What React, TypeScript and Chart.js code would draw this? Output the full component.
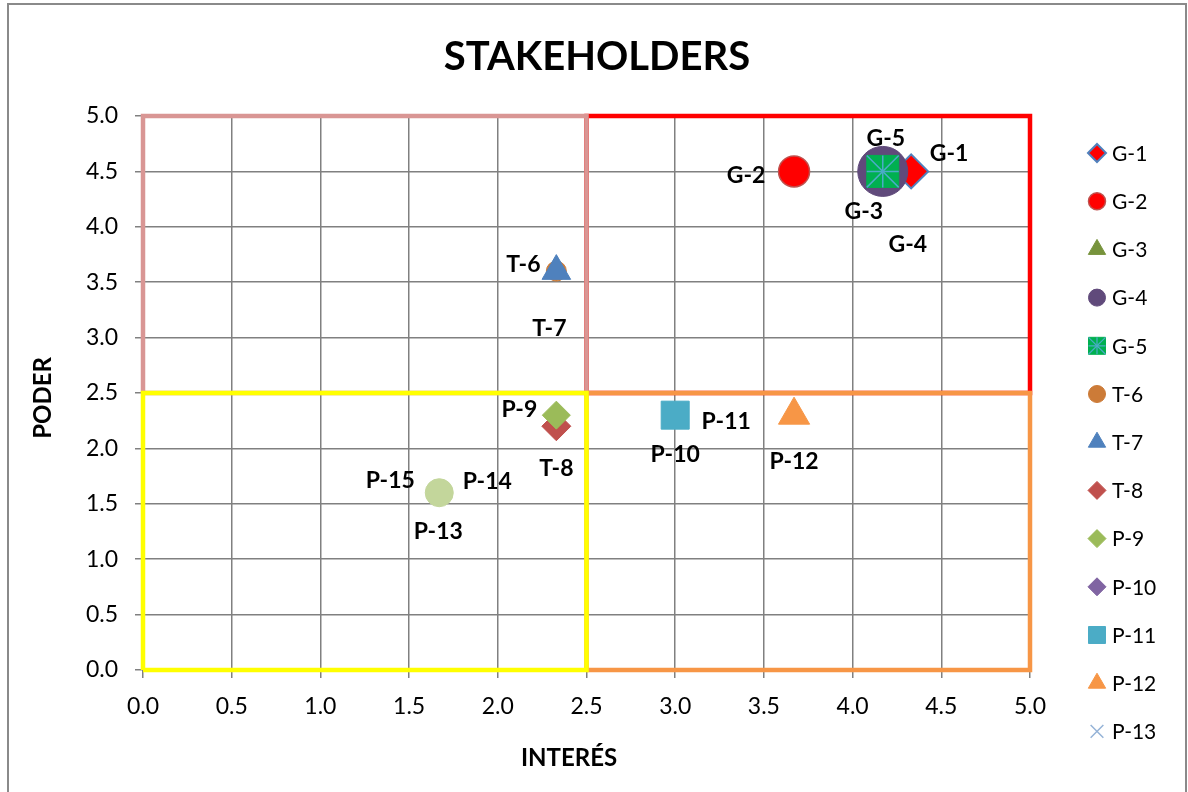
import React, { useEffect, useRef } from 'react';
import { Chart, registerables } from 'chart.js';
import { drawPoint } from 'chart.js/helpers';

Chart.register(...registerables);

// ---------- data ----------
const LABELS = ['G-1', 'G-2', 'G-3', 'G-4', 'G-5', 'T-6', 'T-7', 'T-8', 'P-9', 'P-10', 'P-11', 'P-12', 'P-13', 'P-14', 'P-15'];
const INTERES = [4.33, 3.67, 4.17, 4.17, 4.17, 2.33, 2.33, 2.33, 2.33, 3.0, 3.0, 3.67, 1.67, 1.67, 1.67];
const PODER = [4.5, 4.5, 4.5, 4.5, 4.5, 3.6, 3.6, 2.2, 2.3, 2.3, 2.3, 2.3, 1.6, 1.6, 1.6];
const QUAD_X = [0, 2.5, 5];
const QUAD_Y = [0, 2.5, 5];
const TICK_VALUES = [0, 0.5, 1, 1.5, 2, 2.5, 3, 3.5, 4, 4.5, 5];
const TICK_LABELS = ['0.0', '0.5', '1.0', '1.5', '2.0', '2.5', '3.0', '3.5', '4.0', '4.5', '5.0'];
const TITLE = 'STAKEHOLDERS';
const X_TITLE = 'INTERÉS';
const Y_TITLE = 'PODER';
const LEGEND_COUNT = 13;

// ---------- styles ----------
const POINT_STYLE = ['rectRot', 'circle', 'triangle', 'circle', 'rect', 'circle', 'triangle', 'rectRot', 'rectRot', 'rectRot', 'rect', 'triangle', 'crossRot', 'circle', 'circle'];
const FILL = ['#FF0000', '#FF0000', '#77933C', '#604A7B', '#00B050', '#CC7B38', '#4F81BD', '#C0504D', '#9BBB59', '#8064A2', '#4BACC6', '#F79646', '#95B3D7', '#D7E4BD', '#C3D69B'];
const BORDER = ['#4F81BD', '#C0504D', '#77933C', '#604A7B', '#00B050', '#CC7B38', '#4F81BD', '#C0504D', '#9BBB59', '#8064A2', '#4BACC6', '#F79646', '#95B3D7', '#D7E4BD', '#C3D69B'];
const BORDER_W = [2, 1.5, 1, 1, 1, 1, 1, 1, 1, 1, 1, 1, 1.5, 1, 1];
const RADIUS = [17, 15.5, 12, 25, 22.6, 10, 16.5, 14.5, 14, 10, 19.8, 18, 9, 8, 14];
const LEGEND_RADIUS = [9, 8.5, 10, 8.5, 12, 8.5, 10, 9, 9, 9, 12, 10, 9];
const LABEL_DX = [38, -48, -19, 25, 3, -33, -7, 0, -37, 0, 51, 0, -1, 48, -49];
const LABEL_DY = [-18, 4, 40, 73, -33, -7, 57, 42, -6, 39, 6, 46, 39, -11, -12];
const QUAD_COLORS = ['#FF0000', '#D99694', '#F79646', '#FFFF00'];
const STAR_COLOR = '#4BACC6';
const FONT = 'Lato';

function rectPath(x0: number, x1: number, y0: number, y1: number) {
  return [
    { x: x0, y: y0 },
    { x: x1, y: y0 },
    { x: x1, y: y1 },
    { x: x0, y: y1 },
    { x: x0, y: y0 },
  ];
}

export default function App() {
  const ref = useRef<HTMLCanvasElement | null>(null);

  useEffect(() => {
    if (!ref.current) return;

    const quads = [
      { data: rectPath(QUAD_X[1], QUAD_X[2], QUAD_Y[1], QUAD_Y[2]), color: QUAD_COLORS[0], order: 104 },
      { data: rectPath(QUAD_X[0], QUAD_X[1], QUAD_Y[1], QUAD_Y[2]), color: QUAD_COLORS[1], order: 103 },
      { data: rectPath(QUAD_X[1], QUAD_X[2], QUAD_Y[0], QUAD_Y[1]), color: QUAD_COLORS[2], order: 102 },
      { data: rectPath(QUAD_X[0], QUAD_X[1], QUAD_Y[0], QUAD_Y[1]), color: QUAD_COLORS[3], order: 101 },
    ].map((q) => ({
      label: '',
      data: q.data,
      showLine: true,
      borderColor: q.color,
      backgroundColor: q.color,
      borderWidth: 4.5,
      borderJoinStyle: 'miter' as const,
      pointRadius: 0,
      fill: false,
      clip: false as any,
      order: q.order,
    }));

    const points = LABELS.map((lab, i) => ({
      label: lab,
      data: [{ x: INTERES[i], y: PODER[i] }],
      pointStyle: POINT_STYLE[i] as any,
      pointRadius: RADIUS[i],
      pointBackgroundColor: FILL[i],
      pointBorderColor: BORDER[i],
      pointBorderWidth: BORDER_W[i],
      backgroundColor: FILL[i],
      borderColor: BORDER[i],
      order: 20 - i,
      clip: false as any,
    }));

    // star overlay on G-5 square
    const g5 = 4;
    const overlays = [
      { style: 'cross', r: 16 },
      { style: 'crossRot', r: 22.6 },
    ].map((o) => ({
      label: '',
      data: [{ x: INTERES[g5], y: PODER[g5] }],
      pointStyle: o.style as any,
      pointRadius: o.r,
      pointBackgroundColor: 'rgba(0,0,0,0)',
      pointBorderColor: STAR_COLOR,
      pointBorderWidth: 1.5,
      order: 20 - g5 - 0.5,
      clip: false as any,
    }));

    const decor = {
      id: 'decor',
      beforeDraw(chart: any) {
        const ctx = chart.ctx;
        ctx.save();
        ctx.fillStyle = '#FFFFFF';
        ctx.fillRect(0, 0, chart.width, chart.height);
        ctx.strokeStyle = '#8A8A8A';
        ctx.lineWidth = 2;
        ctx.strokeRect(8, 4, 1178, 820);
        ctx.restore();
      },
      afterDraw(chart: any) {
        const ctx = chart.ctx;
        const xs = chart.scales.x;
        const ys = chart.scales.y;
        ctx.save();
        // title
        ctx.fillStyle = '#000';
        ctx.textAlign = 'center';
        ctx.textBaseline = 'middle';
        ctx.font = `bold 40px ${FONT}`;
        ctx.fillText(TITLE, 597, 57);
        // axis titles
        ctx.font = `bold 24px ${FONT}`;
        ctx.fillText(X_TITLE, 569, 758);
        ctx.save();
        ctx.translate(43, 398);
        ctx.rotate(-Math.PI / 2);
        ctx.fillText(Y_TITLE, 0, 0);
        ctx.restore();
        // data labels
        ctx.font = `bold 23px ${FONT}`;
        LABELS.forEach((lab, i) => {
          const px = xs.getPixelForValue(INTERES[i]) + LABEL_DX[i];
          const py = ys.getPixelForValue(PODER[i]) + LABEL_DY[i];
          ctx.fillText(lab, px, py);
        });
        // legend
        const lx = 1097;
        const ly0 = 153;
        const step = 48.2;
        for (let i = 0; i < LEGEND_COUNT; i++) {
          const y = ly0 + i * step;
          ctx.fillStyle = FILL[i];
          ctx.strokeStyle = BORDER[i];
          ctx.lineWidth = BORDER_W[i];
          drawPoint(ctx, { pointStyle: POINT_STYLE[i], radius: LEGEND_RADIUS[i], borderWidth: BORDER_W[i], rotation: 0 } as any, lx, y);
          if (i === g5) {
            ctx.strokeStyle = STAR_COLOR;
            ctx.lineWidth = 1.2;
            drawPoint(ctx, { pointStyle: 'cross', radius: 8.5, borderWidth: 1.2, rotation: 0 } as any, lx, y);
            drawPoint(ctx, { pointStyle: 'crossRot', radius: 12, borderWidth: 1.2, rotation: 0 } as any, lx, y);
          }
          ctx.fillStyle = '#000';
          ctx.textAlign = 'left';
          ctx.font = `21px ${FONT}`;
          ctx.fillText(LABELS[i], 1112, y + 1);
        }
        ctx.restore();
      },
    };

    const tickSetup = (scale: any) => {
      scale.ticks = TICK_VALUES.map((v) => ({ value: v }));
    };

    const chart = new Chart(ref.current, {
      type: 'scatter',
      data: { datasets: [...quads, ...points, ...overlays] as any },
      options: {
        responsive: false,
        animation: false,
        layout: { padding: { left: 0, top: 116, right: 158, bottom: 0 } },
        plugins: {
          legend: { display: false },
          tooltip: { enabled: false },
          title: { display: false },
        },
        scales: {
          x: {
            type: 'linear',
            min: 0,
            max: 5,
            afterBuildTicks: tickSetup,
            afterFit: (s: any) => { s.height = 122; },
            ticks: {
              callback: (_v: any, i: number) => TICK_LABELS[i],
              color: '#000',
              font: { family: FONT, size: 23 },
              padding: 15,
              maxRotation: 0,
              autoSkip: false,
            },
            grid: { color: '#808080', lineWidth: 1.5, tickLength: 8 },
            border: { display: false },
          },
          y: {
            type: 'linear',
            min: 0,
            max: 5,
            afterBuildTicks: tickSetup,
            afterFit: (s: any) => { s.width = 143; },
            ticks: {
              callback: (_v: any, i: number) => TICK_LABELS[i],
              color: '#000',
              font: { family: FONT, size: 23 },
              padding: 17,
              autoSkip: false,
            },
            grid: { color: '#808080', lineWidth: 1.5, tickLength: 8 },
            border: { display: false },
          },
        },
      },
      plugins: [decor],
    });

    return () => chart.destroy();
  }, []);

  return (
    <div style={{ position: 'fixed', left: 0, top: 0, width: 1188, height: 792 }}>
      <canvas ref={ref} width={1188} height={792} style={{ display: 'block' }} />
    </div>
  );
}
